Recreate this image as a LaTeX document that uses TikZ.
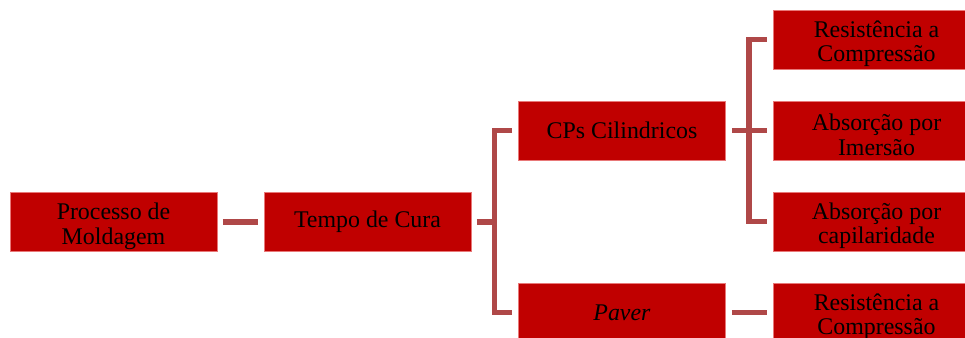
\documentclass[tikz,border=0pt]{standalone}
\usepackage{fontspec}
\setmainfont{Liberation Serif}
\definecolor{caixa}{RGB}{192,0,0}
\definecolor{borda}{RGB}{232,120,120}
\definecolor{ligacao}{RGB}{175,72,72}
\newcommand{\desce}{\rule{0pt}{14.4pt}}
\tikzset{
  caixa/.style={rectangle, fill=caixa, draw=borda, line width=0.5pt,
    minimum width=4.14cm, minimum height=1.18cm, inner sep=0pt,
    align=center, font=\fontsize{13.6}{14}\selectfont},
  ligacao/.style={draw=ligacao, line width=0.11cm}
}

\begin{document}
\begin{tikzpicture}
				\useasboundingbox (0,0) rectangle (19.3,6.76);
				\clip (0,0) rectangle (19.3,6.76);
				% caixas
				\node[caixa] (proc) at (2.27,2.32) {\desce Processo de\\Moldagem};
				\node[caixa] (cura) at (7.35,2.32) {Tempo de Cura};
				\node[caixa] (cps) at (12.44,4.15) {CPs Cilindricos};
				\node[caixa] (paver) at (12.44,0.51) {\textit{Paver}};
				\node[caixa] (resA) at (17.53,5.97) {\desce Resistência a\\Compressão};
				\node[caixa] (imer) at (17.53,4.15) {\desce Absorção por\\Imersão};
				\node[caixa] (capi) at (17.53,2.33) {\desce Absorção por\\capilaridade};
				\node[caixa] (resB) at (17.53,0.51) {\desce Resistência a\\Compressão};
				% pontos de ramificacao
				\coordinate (jCura) at (9.89,2.32);
				\coordinate (jCps) at (14.98,4.15);
				% ligacoes
				\draw[ligacao]
				([xshift=0.11cm]proc.east) -- ([xshift=-0.11cm]cura.west)
				([xshift=0.11cm]cura.east) -- (jCura)
				([xshift=-0.12cm]cps.west) -| (jCura) |- ([xshift=-0.12cm]paver.west)
				([xshift=0.12cm]cps.east) -- ([xshift=-0.12cm]imer.west)
				([xshift=-0.12cm]resA.west) -| (jCps) |- ([xshift=-0.12cm]capi.west)
				([xshift=0.12cm]paver.east) -- ([xshift=-0.12cm]resB.west)
				;
			\end{tikzpicture}
\end{document}
